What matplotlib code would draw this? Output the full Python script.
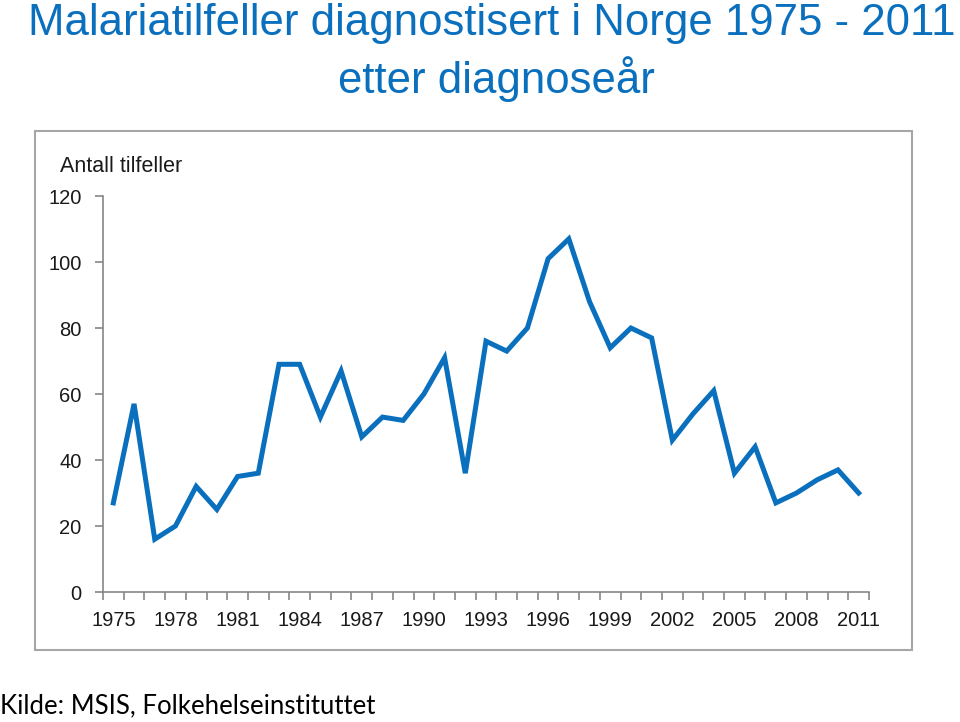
import matplotlib
matplotlib.use("Agg")
import matplotlib.pyplot as plt
from matplotlib.patches import Rectangle

years = list(range(1975, 2012))
cases = [27, 57, 16, 20, 32, 25, 35, 36, 69, 69, 53, 67, 47, 53, 52, 60, 71, 36,
         76, 73, 80, 101, 107, 88, 74, 80, 77, 46, 54, 61, 36, 44, 27, 30, 34, 37, 30]
yticks = [0, 20, 40, 60, 80, 100, 120]
xlabel_years = list(range(1975, 2012, 3))

title1 = "Malariatilfeller diagnostisert i Norge 1975 - 2011"
title2 = "etter diagnoseår"
ylabel = "Antall tilfeller"
source = "Kilde: MSIS, Folkehelseinstituttet"

blue = "#0A70BE"
plt.rcParams['font.family'] = ['Liberation Sans', 'DejaVu Sans']

fig = plt.figure(figsize=(9.6, 7.22), dpi=100)

# chart frame
fig.patches.append(Rectangle((35/960, 1-650/722), (912-35)/960, (650-131)/722,
                             transform=fig.transFigure, fill=False,
                             edgecolor="#A6A6A6", linewidth=1.5))

ax = fig.add_axes([103/960, 1-592/722, (869-103)/960, (592-196)/722])
x = list(range(len(years)))
ax.plot(x, cases, color=blue, linewidth=3.6, solid_joinstyle='miter')
ax.set_xlim(-0.5, len(years)-0.5)
ax.set_ylim(0, 120)
ax.set_yticks(yticks)
ax.set_yticklabels([str(v) for v in yticks], fontsize=14.5, color="#1a1a1a")
ax.set_xticks([i + 0.5 for i in range(-1, len(years))], minor=False)
ax.set_xticklabels([])
ax.set_xticks([years.index(y) for y in xlabel_years], minor=True)
ax.set_xticklabels([str(y) for y in xlabel_years], minor=True, fontsize=14.5, color="#1a1a1a")
ax.tick_params(axis='x', which='major', direction='out', length=6, color="#868686", width=1.2)
ax.tick_params(axis='x', which='minor', length=0, pad=14)
ax.tick_params(axis='y', direction='out', length=6, color="#868686", width=1.2, pad=9.5)
for s in ['top', 'right']:
    ax.spines[s].set_visible(False)
for s in ['left', 'bottom']:
    ax.spines[s].set_color("#868686")
    ax.spines[s].set_linewidth(1.2)

fig.text(60/960, 1-172/722, ylabel, fontsize=15.5, color="#1a1a1a", va='baseline', ha='left')

fig.text(492/960, 1-35/722, title1, fontsize=31.5, color=blue, ha='center', va='baseline')
fig.text(496/960, 1-93/722, title2, fontsize=31.5, color=blue, ha='center', va='baseline')

fig.text(0, 1-713/722, source, fontsize=18.5, color="black", ha='left', va='baseline',
         family=['Lato', 'DejaVu Sans'])

fig.savefig("out.png", dpi=100)
